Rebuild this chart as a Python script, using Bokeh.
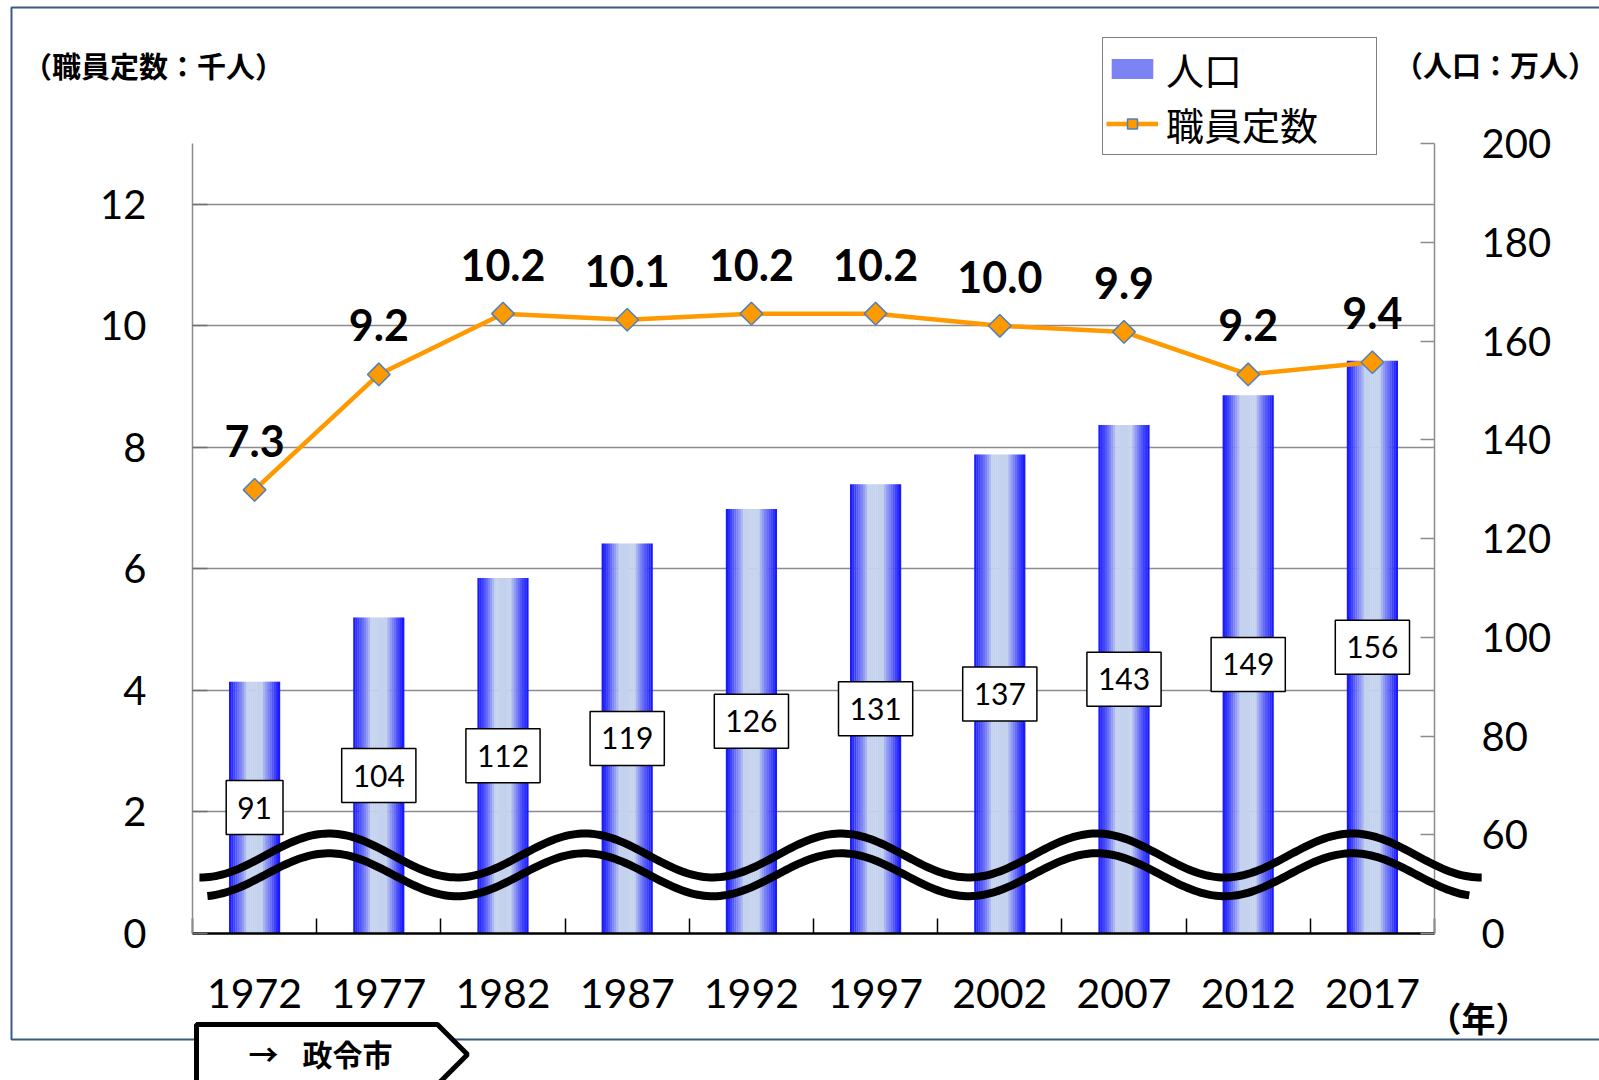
import numpy as np
from bokeh.plotting import figure
from bokeh.models import (Range1d, LinearAxis, FixedTicker, ColumnDataSource, Legend,
                          LegendItem, Label, PolyAnnotation, BoxAnnotation)
from bokeh.core.properties import value
from bokeh.embed import file_html
from bokeh.resources import INLINE

# ---------------- data ----------------
years = ["1972", "1977", "1982", "1987", "1992", "1997", "2002", "2007", "2012", "2017"]
population = [91, 104, 112, 119, 126, 131, 137, 143, 149, 156]        # 人口 (万人)
staff = [7.3, 9.2, 10.2, 10.1, 10.2, 10.2, 10.0, 9.9, 9.2, 9.4]       # 職員定数 (千人)
staff_labels = ["7.3", "9.2", "10.2", "10.1", "10.2", "10.2", "10.0", "9.9", "9.2", "9.4"]
left_ticks = [0, 2, 4, 6, 8, 10, 12]
grid_ticks = [2, 4, 6, 8, 10, 12]
right_ticks = [40, 60, 80, 100, 120, 140, 160, 180, 200]
right_tick_labels = ["0", "60", "80", "100", "120", "140", "160", "180", "200"]
POP_BASE = 40   # broken axis: the "0" of the population axis sits at 40
POP_TOP = 200
STAFF_TOP = 13

# ---------------- layout (pixels) ----------------
W, H = 1599, 1080
AX_L, AX_R, AX_B, AX_T = 192, 1434, 933, 143     # plot-area edges on the canvas
KX = (AX_R - AX_L) / 10.0
KY = (AX_B - AX_T) / STAFF_TOP
KP = (AX_B - AX_T) / (POP_TOP - POP_BASE)
NUM_FONT = "Lato"
JP_FONT = "Noto Sans CJK JP"

p = figure(width=W, height=H,
           x_range=Range1d(-AX_L / KX, 10 + (W - AX_R) / KX),
           y_range=Range1d(-(H - AX_B) / KY, STAFF_TOP + AX_T / KY),
           output_backend="svg", toolbar_location=None, title_location=None,
           x_axis_location=None, y_axis_location=None,
           min_border_left=0, min_border_right=0, min_border_top=0, min_border_bottom=0)
p.extra_y_ranges = {"pop": Range1d(POP_BASE - (H - AX_B) / KP, POP_TOP + AX_T / KP)}
p.outline_line_color = None
p.background_fill_color = "white"
p.border_fill_color = "white"
p.xgrid.visible = False
p.ygrid.visible = False

xpos = [i + 0.5 for i in range(len(years))]

# ---------------- axes ----------------
# horizontal grid lines drawn as long inward ticks of a label-less axis (behind the bars)
ga = LinearAxis(fixed_location=0, ticker=FixedTicker(ticks=grid_ticks), bounds=(0, STAFF_TOP),
                major_tick_in=int(round(AX_R - AX_L)), major_tick_out=0,
                major_tick_line_color="#8c8c8c", major_tick_line_width=1.5,
                minor_tick_line_color=None, axis_line_color=None,
                major_label_text_color=None, level="underlay")
p.add_layout(ga, "left")

ya = LinearAxis(fixed_location=0, ticker=FixedTicker(ticks=left_ticks), bounds=(0, STAFF_TOP))
ya.minor_tick_line_color = None
ya.major_tick_in = 15
ya.major_tick_out = 0
ya.major_tick_line_color = "#6f6f6f"
ya.major_tick_line_width = 1.5
ya.axis_line_color = "#8c8c8c"
ya.axis_line_width = 1.5
ya.major_label_text_font = NUM_FONT
ya.major_label_text_font_size = "40px"
ya.major_label_text_color = "black"
ya.major_label_standoff = 46
p.add_layout(ya, "left")

ra = LinearAxis(y_range_name="pop", fixed_location=10, ticker=FixedTicker(ticks=right_ticks),
                bounds=(POP_BASE, POP_TOP),
                major_label_overrides={t: l for t, l in zip(right_ticks, right_tick_labels)})
ra.minor_tick_line_color = None
ra.major_tick_in = 14
ra.major_tick_out = 0
ra.major_tick_line_color = "#8c8c8c"
ra.major_tick_line_width = 1.5
ra.axis_line_color = "#8c8c8c"
ra.axis_line_width = 1.5
ra.major_label_text_font = NUM_FONT
ra.major_label_text_font_size = "40px"
ra.major_label_text_color = "black"
ra.major_label_standoff = 47
p.add_layout(ra, "right")

xa = LinearAxis(fixed_location=0, bounds=(0, 10),
                ticker=FixedTicker(ticks=xpos, minor_ticks=list(range(len(years) + 1))),
                major_label_overrides={x: y for x, y in zip(xpos, years)})
xa.major_tick_line_color = None
xa.minor_tick_in = 15
xa.minor_tick_out = 0
xa.minor_tick_line_color = "black"
xa.minor_tick_line_width = 1.5
xa.axis_line_color = "black"
xa.axis_line_width = 2.5
xa.major_label_text_font = NUM_FONT
xa.major_label_text_font_size = "41px"
xa.major_label_text_color = "black"
xa.major_label_standoff = 39
p.add_layout(xa, "below")

# ---------------- bars (cylindrical gradient via strips) ----------------
N_STRIP = 24
BAR_W = 0.41
edge = np.array([16, 16, 255], dtype=float)
light = np.array([196, 210, 238], dtype=float)
bx, btop, bcol = [], [], []
for i, v in enumerate(population):
    for k in range(N_STRIP):
        t = (k + 0.5) / N_STRIP
        s = abs(2 * t - 1)
        w = float(np.clip((s - 0.3) / 0.7, 0, 1)) ** 0.85
        c = light * (1 - w) + edge * w
        bx.append(xpos[i] - BAR_W / 2 + t * BAR_W)
        btop.append(v)
        bcol.append("#%02x%02x%02x" % tuple(int(round(q)) for q in c))
bar_src = ColumnDataSource(dict(x=bx, top=btop, color=bcol))
bars = p.vbar(x="x", top="top", bottom=POP_BASE, width=BAR_W / N_STRIP * 1.12,
              source=bar_src, y_range_name="pop", fill_color="color", line_color=None)

# ---------------- staff line ----------------
line_r = p.line(xpos, staff, line_color="#FF9900", line_width=4.5)
mark_r = p.scatter(xpos, staff, marker="square", angle=np.pi / 4, size=16,
                   fill_color="#FF9900", line_color="#4F81BD", line_width=1.5)

p.text(x=xpos, y=staff, text=staff_labels, y_offset=-49,
       text_font=value(NUM_FONT), text_font_style="bold", text_font_size="43px",
       text_align="center", text_baseline="middle", text_color="black")

pop_mid = [(POP_BASE + v) / 2 for v in population]
p.text(x=xpos, y=pop_mid, text=[str(v) for v in population], y_range_name="pop",
       text_font=value(NUM_FONT), text_font_size="30px", text_align="center",
       text_baseline="middle", text_color="black",
       background_fill_color="white", border_line_color="black", border_line_width=1.5,
       padding=dict(left=11, right=11, top=16, bottom=16))

# ---------------- axis-break wave (decoration, in staff-axis data units) ----------------
def wave_band(x0, x1, mid_pop, amp_pop, half=4.0):
    xs = np.linspace(x0, x1, 400)
    yp = mid_pop + amp_pop * np.cos(2 * np.pi * (xs - 1.10) / 2.06)
    px, py = xs * KX, (yp - POP_BASE) * KP
    dx, dy = np.gradient(px), np.gradient(py)
    nrm = np.hypot(dx, dy)
    nx, ny = -dy / nrm, dx / nrm
    ux, uy = px + nx * half, py + ny * half
    lx, ly = px - nx * half, py - ny * half
    bxs = np.concatenate([ux, lx[::-1]]) / KX
    bys = np.concatenate([uy, ly[::-1]]) / KY
    return list(bxs), list(bys)

for (x0, x1, mid, amp) in [(0.056, 10.38, 55.8, 4.45), (0.12, 10.28, 51.9, 4.35)]:
    wx, wy = wave_band(x0, x1, mid, amp)
    p.add_layout(PolyAnnotation(xs=wx, ys=wy, fill_color="black", fill_alpha=1,
                                line_color=None))

# ---------------- outer frame & tab ----------------
p.add_layout(BoxAnnotation(left=11, right=1700, top=7, bottom=1039,
                           left_units="canvas", right_units="canvas",
                           top_units="canvas", bottom_units="canvas",
                           fill_color=None, fill_alpha=0,
                           line_color="#3b5a82", line_alpha=1, line_width=2))
p.add_layout(PolyAnnotation(xs=[196, 437, 467, 437, 437, 196], ys=[1024, 1024, 1054, 1084, 1110, 1110],
                            xs_units="canvas", ys_units="canvas",
                            fill_color="white", fill_alpha=1,
                            line_color="black", line_alpha=1, line_width=5))

# ---------------- legend ----------------
legend = Legend(items=[LegendItem(label="人口", renderers=[bars], index=5),
                       LegendItem(label="職員定数", renderers=[line_r, mark_r])],
                location=(1102, H - 155), orientation="vertical",
                label_text_font=JP_FONT, label_text_font_size="38px", label_text_color="black",
                glyph_width=52, glyph_height=25, label_standoff=8, label_width=207,
                padding=3, spacing=0, margin=0,
                border_line_color="black", border_line_width=1.5,
                background_fill_color="white", background_fill_alpha=1)
p.add_layout(legend, "center")

# ---------------- unit labels ----------------
def jp_label(x, y, text, size, bold=True):
    p.add_layout(Label(x=x, y=y, x_units="canvas", y_units="canvas", text=text,
                       text_font=JP_FONT, text_font_size=size,
                       text_font_style="bold" if bold else "normal",
                       text_align="center", text_baseline="middle", text_color="black"))

jp_label(153, 64, "（職員定数：千人）", "29px")
jp_label(1495, 63, "（人口：万人）", "29px")
jp_label(1478, 1017, "（年）", "34px")
jp_label(263, 1052, "→", "30px")
jp_label(347, 1052, "政令市", "30px")

open("out.html", "w").write(file_html(p, INLINE))
